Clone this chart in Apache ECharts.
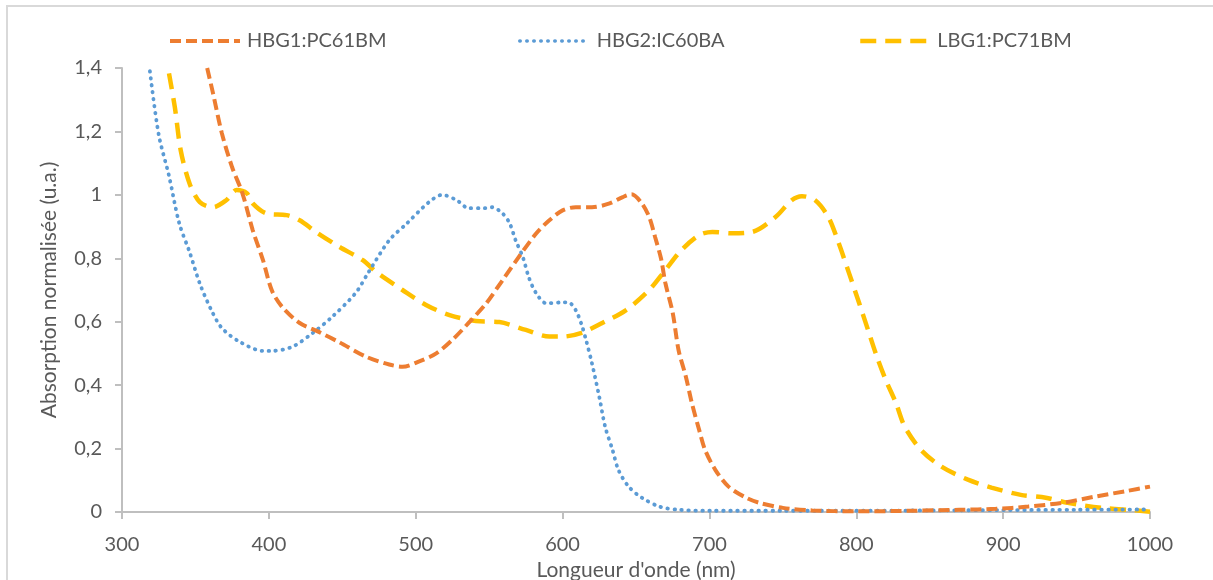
<!DOCTYPE html>
<html>
<head>
<meta charset="utf-8">
<script src="https://cdn.jsdelivr.net/npm/echarts@6/dist/echarts.min.js"></script>
<style>
html,body{margin:0;padding:0;background:#fff;overflow:hidden;width:1213px;height:580px;}
#wrap{position:relative;width:1213px;height:580px;overflow:hidden;}
#chart{position:absolute;left:0;top:0;width:1213px;height:580px;}
#frame{position:absolute;left:6px;top:5px;width:1215px;height:590px;border:2px solid #d9d9d9;pointer-events:none;box-sizing:border-box;}
</style>
</head>
<body>
<div id="wrap">
<div id="chart"></div>
<div id="frame"></div>
</div>
<script>
const seriesNames = ['HBG1:PC61BM', 'HBG2:IC60BA', 'LBG1:PC71BM'];
const xTicks = [300, 400, 500, 600, 700, 800, 900, 1000];
const yTicks = [0, 0.2, 0.4, 0.6, 0.8, 1, 1.2, 1.4];

const hbg1X = [358, 362, 368, 375, 382, 389, 396, 402, 409, 421, 434, 448, 466, 482, 491, 502, 514, 525, 536, 548, 559, 570, 582, 591, 600, 609, 620, 632, 641, 647, 654, 659, 663, 667, 670, 675, 679, 684, 688, 693, 697, 704, 713, 725, 734, 750, 770, 800, 838, 870, 895, 917, 940, 962, 985, 1000];
const hbg1Y = [1.40, 1.32, 1.194, 1.087, 1.005, 0.889, 0.794, 0.699, 0.647, 0.596, 0.568, 0.535, 0.49, 0.465, 0.458, 0.474, 0.5, 0.543, 0.596, 0.658, 0.73, 0.803, 0.878, 0.92, 0.951, 0.961, 0.961, 0.973, 0.993, 1.002, 0.973, 0.93, 0.867, 0.8, 0.722, 0.628, 0.51, 0.426, 0.344, 0.259, 0.196, 0.133, 0.08, 0.045, 0.029, 0.013, 0.005, 0.002, 0.004, 0.007, 0.01, 0.017, 0.029, 0.048, 0.067, 0.08];

const hbg2X = [319, 325, 332, 339, 346, 353, 361, 368, 380, 396, 402, 416, 430, 443, 459, 468, 482, 494, 509, 518, 528, 536, 547, 552, 559, 564, 568, 573, 577, 582, 589, 600, 604, 609, 613, 616, 620, 625, 629, 634, 638, 645, 654, 666, 679, 700, 750, 800, 850, 900, 950, 1000];
const hbg2Y = [1.39, 1.19, 1.06, 0.91, 0.82, 0.72, 0.635, 0.58, 0.537, 0.508, 0.508, 0.521, 0.565, 0.615, 0.69, 0.757, 0.857, 0.91, 0.977, 1.0, 0.983, 0.958, 0.958, 0.961, 0.942, 0.91, 0.857, 0.803, 0.74, 0.69, 0.658, 0.661, 0.661, 0.636, 0.59, 0.542, 0.469, 0.363, 0.269, 0.196, 0.133, 0.08, 0.045, 0.017, 0.007, 0.004, 0.004, 0.004, 0.005, 0.006, 0.007, 0.008];

const lbg1X = [332, 336, 340, 346, 353, 362, 371, 378, 385, 389, 398, 412, 421, 432, 448, 464, 473, 491, 507, 523, 541, 557, 575, 591, 600, 613, 627, 643, 659, 670, 681, 693, 702, 715, 729, 745, 756, 763, 772, 781, 788, 795, 802, 808, 814, 820, 827, 833, 844, 858, 876, 892, 912, 929, 944, 967, 985, 1000];
const lbg1Y = [1.383, 1.276, 1.14, 1.036, 0.977, 0.961, 0.983, 1.015, 1.005, 0.973, 0.942, 0.936, 0.92, 0.883, 0.836, 0.794, 0.757, 0.7, 0.653, 0.621, 0.602, 0.599, 0.574, 0.553, 0.553, 0.565, 0.596, 0.636, 0.7, 0.763, 0.826, 0.873, 0.883, 0.879, 0.883, 0.93, 0.983, 0.996, 0.983, 0.93, 0.848, 0.754, 0.658, 0.574, 0.49, 0.417, 0.344, 0.269, 0.196, 0.143, 0.102, 0.077, 0.054, 0.045, 0.029, 0.013, 0.007, 0.001];

const pairs = (xs, ys) => xs.map((x, i) => [x, ys[i]]);
const FONT = 'Lato';
const TXT = '#595959';
const AX = '#bfbfbf';

const chart = echarts.init(document.getElementById('chart'), null, {renderer: 'canvas'});

const legendBase = {
  top: 31, itemWidth: 70, itemHeight: 16, itemGap: 0, padding: 0,
  itemStyle: {opacity: 0},
  textStyle: {fontFamily: FONT, fontSize: 20, color: TXT, padding: [0, 0, 0, 2]}
};

chart.setOption({
  animation: false,
  backgroundColor: '#fff',
  legend: [
    Object.assign({}, legendBase, {left: 168, data: [seriesNames[0]], lineStyle: {width: 4}}),
    Object.assign({}, legendBase, {left: 518, data: [seriesNames[1]], lineStyle: {width: 3.5}}),
    Object.assign({}, legendBase, {left: 858, data: [seriesNames[2]], lineStyle: {width: 4.5}})
  ],
  grid: {left: 122, right: 63, top: 68, bottom: 68, containLabel: false, outerBoundsMode: 'none'},
  xAxis: {
    type: 'value', min: 300, max: 1000, interval: 100,
    name: "Longueur d'onde (nm)", nameLocation: 'middle', nameGap: 36,
    nameTextStyle: {fontFamily: FONT, fontSize: 21, color: TXT},
    axisLine: {show: true, lineStyle: {color: AX, width: 2}},
    axisTick: {show: true, length: 7, lineStyle: {color: AX, width: 2}},
    axisLabel: {fontFamily: FONT, fontSize: 20, color: TXT, margin: 23,
      formatter: v => xTicks.includes(v) ? String(v) : ''},
    splitLine: {show: false}
  },
  yAxis: {
    type: 'value', min: 0, max: 1.4, interval: 0.2,
    name: 'Absorption normalisée (u.a.)', nameLocation: 'middle', nameGap: 62,
    nameTextStyle: {fontFamily: FONT, fontSize: 21, color: TXT},
    axisLine: {show: true, lineStyle: {color: AX, width: 2}},
    axisTick: {show: true, length: 7, lineStyle: {color: AX, width: 2}},
    axisLabel: {fontFamily: FONT, fontSize: 20, color: TXT, margin: 20,
      formatter: v => {
        const t = yTicks.find(k => Math.abs(k - v) < 1e-6);
        return t === undefined ? '' : String(Math.round(t * 10) / 10).replace('.', ',');
      }},
    splitLine: {show: false}
  },
  series: [
    {
      name: seriesNames[0], type: 'line', data: pairs(hbg1X, hbg1Y),
      symbol: 'none', smooth: 0.3, clip: true, z: 3,
      itemStyle: {color: '#ED7D31'},
      lineStyle: {color: '#ED7D31', width: 4, type: [11, 5]}
    },
    {
      name: seriesNames[1], type: 'line', data: pairs(hbg2X, hbg2Y),
      symbol: 'none', smooth: 0.3, clip: true, z: 2,
      itemStyle: {color: '#5B9BD5'},
      lineStyle: {color: '#5B9BD5', width: 3.8, type: [0.5, 6.5], cap: 'round'}
    },
    {
      name: seriesNames[2], type: 'line', data: pairs(lbg1X, lbg1Y),
      symbol: 'none', smooth: 0.3, clip: true, z: 1,
      itemStyle: {color: '#FFC000'},
      lineStyle: {color: '#FFC000', width: 4.5, type: [16, 9]}
    }
  ]
});
</script>
</body>
</html>
